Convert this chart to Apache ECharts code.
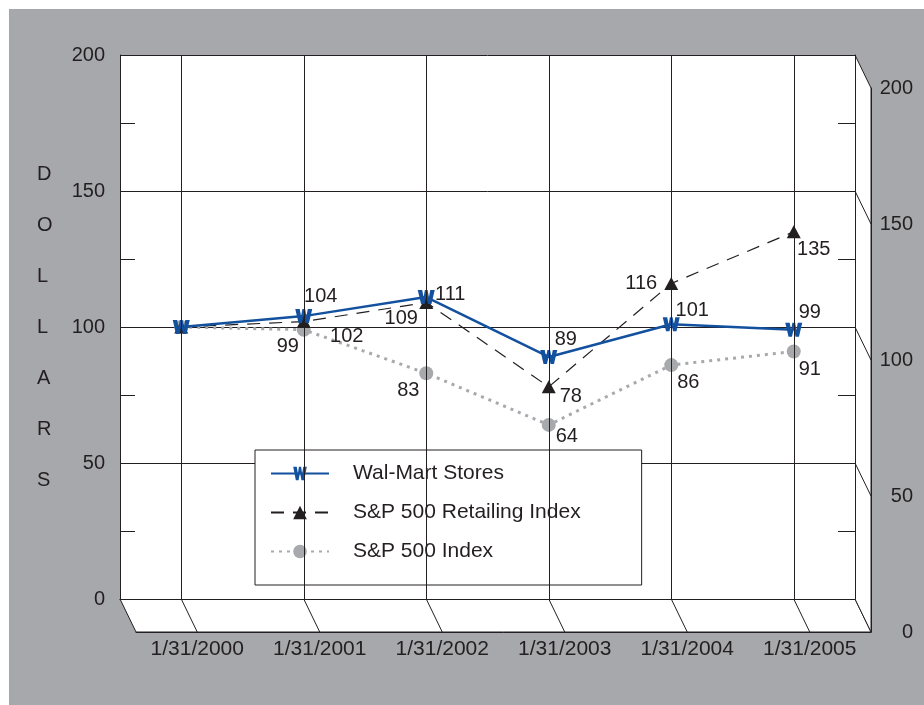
<!DOCTYPE html>
<html><head><meta charset="utf-8">
<script src="https://cdn.jsdelivr.net/npm/echarts@6/dist/echarts.min.js"></script>
<style>html,body{margin:0;padding:0;background:#fff}#c{width:924px;height:705px}</style>
</head><body><div id="c"></div>
<script>
// ---- data ----
const categories = ['1/31/2000','1/31/2001','1/31/2002','1/31/2003','1/31/2004','1/31/2005'];
const walmart   = [100, 104, 111, 89, 101, 99];
const retailing = [100, 102, 109, 78, 116, 135];
const sp500     = [100, 99, 83, 64, 86, 91];
const yMin = 0, yMax = 200, yInterval = 50;
const seriesNames = ['Wal-Mart Stores', 'S&P 500 Retailing Index', 'S&P 500 Index'];

// ---- label placement (styling, not data) ----
const walmartLabelOffsets = [null, [17,-20], [24,-3], [17,-17], [21,-14], [16,-17]];
const retailLabelOffsets  = [null, [43,15], [-25,16], [22,10], [-30,0], [20,18]];
const spLabelOffsets      = [null, [-16,17], [-18,17], [18,12], [17,17], [16,18]];

const FONT = '"Liberation Sans", Arial, Helvetica, sans-serif';
const INK = '#231f20';
const BLUE = '#13519e';
const GREY = '#a8a9ad';
const BG = '#a7a8ac';
const W_PATH = 'path://M0,0H4.2L5.5,6.2L6.7,0H9.3L10.5,6.2L11.8,0H16L12.9,12H9.7L8,5.4L6.3,12H3.1Z';

function withLabels(values, offsets) {
  return values.map((v, i) => ({
    value: v,
    label: offsets[i]
      ? { show: true, position: 'inside', offset: offsets[i], align: 'center', verticalAlign: 'middle' }
      : { show: false }
  }));
}
const labelStyle = { fontSize: 20, color: INK, fontFamily: FONT };

const chart = echarts.init(document.getElementById('c'), null, { renderer: 'canvas' });

const option = {
  animation: false,
  backgroundColor: '#ffffff',
  textStyle: { fontFamily: FONT, color: INK },
  grid: [
    { left: 120, right: 69, top: 55, bottom: 106, show: true, backgroundColor: '#ffffff', borderWidth: 0, containLabel: false, outerBoundsMode: 'none' },
    { left: 136, right: 53, top: 88, bottom: 73, show: false, containLabel: false, outerBoundsMode: 'none' }
  ],
  legend: {
    data: seriesNames,
    orient: 'vertical',
    left: 255, top: 450,
    backgroundColor: '#ffffff',
    borderColor: INK, borderWidth: 1,
    padding: [13, 61, 23, 15],
    itemWidth: 58, itemHeight: 17, itemGap: 18,
    selectedMode: false,
    textStyle: { fontSize: 21, color: INK, fontFamily: FONT, padding: [0, 0, 0, 19], lineHeight: 20 }
  },
  xAxis: [
    { type: 'category', gridIndex: 0, data: categories, boundaryGap: true,
      axisLine: { show: true, lineStyle: { color: INK, width: 1 } },
      axisTick: { show: false }, axisLabel: { show: false }, splitLine: { show: false } },
    { type: 'category', gridIndex: 1, data: categories, boundaryGap: true,
      axisLine: { show: true, lineStyle: { color: INK, width: 1 } },
      axisTick: { show: false },
      axisLabel: { show: true, fontSize: 21, color: INK, fontFamily: FONT, margin: 7, interval: 0 },
      splitLine: { show: false } }
  ],
  yAxis: [
    { type: 'value', gridIndex: 0, min: yMin, max: yMax, interval: yInterval, position: 'left',
      name: 'D\nO\nL\nL\nA\nR\nS', nameLocation: 'middle', nameRotate: 0, nameGap: 83,
      nameTextStyle: { fontSize: 20, color: INK, fontFamily: FONT, lineHeight: 51, align: 'left', verticalAlign: 'middle' },
      axisLine: { show: true, lineStyle: { color: INK, width: 1 } },
      axisTick: { show: true, inside: true, length: 15, lineStyle: { color: INK } },
      minorTick: { show: true, splitNumber: 2, length: 15, lineStyle: { color: INK, width: 1 } },
      axisLabel: { show: true, fontSize: 20, color: INK, fontFamily: FONT, margin: 15 },
      splitLine: { show: true, lineStyle: { color: INK, width: 1 } } },
    { type: 'value', gridIndex: 0, min: yMin, max: yMax, interval: yInterval, position: 'right',
      axisLine: { show: true, lineStyle: { color: INK, width: 1 } },
      axisTick: { show: true, inside: true, length: 17, lineStyle: { color: INK } },
      minorTick: { show: true, splitNumber: 2, length: 17, lineStyle: { color: INK, width: 1 } },
      axisLabel: { show: false }, splitLine: { show: false } },
    { type: 'value', gridIndex: 1, min: yMin, max: yMax, interval: yInterval, position: 'right',
      axisLine: { show: true, lineStyle: { color: INK, width: 1 } },
      axisTick: { show: false },
      axisLabel: { show: true, fontSize: 20, color: INK, fontFamily: FONT, margin: 42, align: 'right' },
      splitLine: { show: false } }
  ],
  series: [
    { name: seriesNames[2], type: 'line', xAxisIndex: 0, yAxisIndex: 0,
      data: withLabels(sp500, spLabelOffsets),
      symbol: 'circle', symbolSize: 14,
      itemStyle: { color: GREY },
      lineStyle: { color: GREY, width: 3, type: [3, 5] },
      label: labelStyle,
      markLine: { silent: true, symbol: ['none', 'none'], label: { show: false },
        lineStyle: { color: INK, width: 1, type: 'solid' },
        emphasis: { disabled: true },
        data: categories.map(c => ({ xAxis: c })) } },
    { name: seriesNames[1], type: 'line', xAxisIndex: 0, yAxisIndex: 0,
      data: withLabels(retailing, retailLabelOffsets),
      symbol: 'triangle', symbolSize: [14, 13],
      itemStyle: { color: INK },
      lineStyle: { color: INK, width: 1.2, type: [13, 9] },
      label: labelStyle },
    { name: seriesNames[0], type: 'line', xAxisIndex: 0, yAxisIndex: 0,
      data: withLabels(walmart, walmartLabelOffsets),
      symbol: W_PATH, symbolSize: [17, 14], symbolKeepAspect: false,
      itemStyle: { color: BLUE },
      lineStyle: { color: BLUE, width: 2.5 },
      label: labelStyle }
  ]
};
chart.setOption(option);

// ---- pseudo-3D floor and right wall from the axes' own scales ----
const r0 = chart.getModel().getComponent('grid', 0).coordinateSystem.getRect();
const r1 = chart.getModel().getComponent('grid', 1).coordinateSystem.getRect();
const backPx = (c, v) => chart.convertToPixel({ xAxisIndex: 0, yAxisIndex: 0 }, [c, v]);
const frontPx = (c, v) => chart.convertToPixel({ xAxisIndex: 1, yAxisIndex: 2 }, [c, v]);
const lineSty = { stroke: INK, lineWidth: 1, fill: null };
const graphics = [];
const W = chart.getWidth(), H = chart.getHeight();
graphics.push({ type: 'rect', z: -100, silent: true, shape: { x: 9, y: 9, width: W - 9, height: H - 9 }, style: { fill: BG } });
// floor
graphics.push({ type: 'polygon', z: -50, silent: true,
  shape: { points: [[r0.x, r0.y + r0.height], [r0.x + r0.width, r0.y + r0.height], [r1.x + r1.width, r1.y + r1.height], [r1.x, r1.y + r1.height]] },
  style: { fill: '#ffffff', stroke: INK, lineWidth: 1 } });
// right wall
graphics.push({ type: 'polygon', z: -50, silent: true,
  shape: { points: [[r0.x + r0.width, r0.y], [r1.x + r1.width, r1.y], [r1.x + r1.width, r1.y + r1.height], [r0.x + r0.width, r0.y + r0.height]] },
  style: { fill: '#ffffff', stroke: INK, lineWidth: 1 } });
categories.forEach(c => {
  const a = backPx(c, yMin), b = frontPx(c, yMin);
  graphics.push({ type: 'line', z: 5, silent: true, shape: { x1: a[0], y1: a[1], x2: b[0], y2: b[1] }, style: lineSty });
});
for (let v = yMin + yInterval; v < yMax; v += yInterval) {
  const a = backPx(categories[0], v), b = frontPx(categories[0], v);
  graphics.push({ type: 'line', z: 5, silent: true, shape: { x1: r0.x + r0.width, y1: a[1], x2: r1.x + r1.width, y2: b[1] }, style: lineSty });
}
chart.setOption({ graphic: graphics });
</script>
</body></html>
